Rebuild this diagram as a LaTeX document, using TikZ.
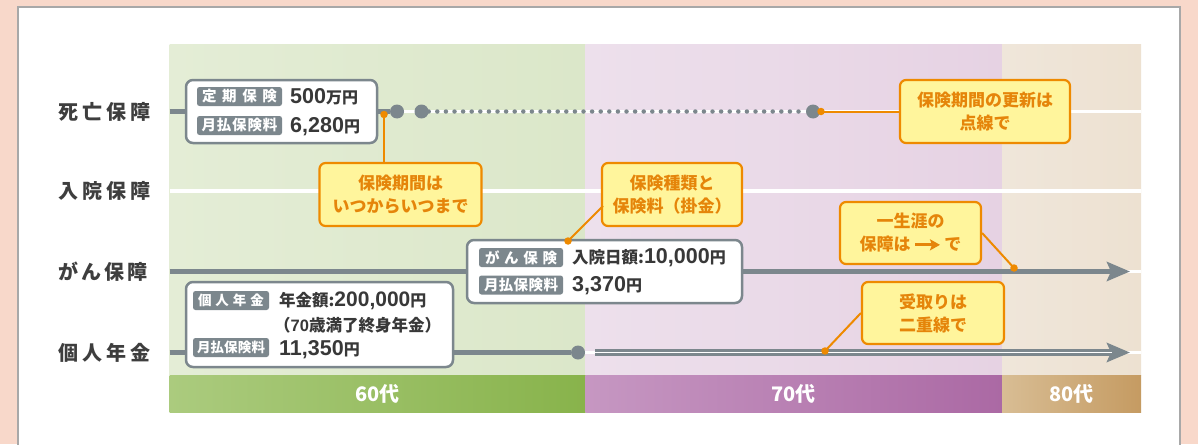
\documentclass[tikz,border=0pt]{standalone}
\usepackage{fontspec}
\setmainfont{Noto Sans CJK JP}
\newfontfamily\dg{Liberation Sans}
\usetikzlibrary{arrows.meta}
\definecolor{bgsalmon}{HTML}{F8D8CA}
\definecolor{panelgray}{HTML}{A8A8A8}
\definecolor{linegray}{HTML}{7C878D}
\definecolor{calloutor}{HTML}{EE8A00}
\definecolor{callouttext}{HTML}{E5850A}
\definecolor{calloutfill}{HTML}{FFF59C}
\definecolor{labeltext}{HTML}{3E3E3E}
\definecolor{valtext}{HTML}{383838}
\definecolor{greenL}{HTML}{E4EDD6}
\definecolor{greenR}{HTML}{DBE7C9}
\definecolor{purpL}{HTML}{EDE0EC}
\definecolor{purpR}{HTML}{E6D2E3}
\definecolor{beigeL}{HTML}{EFE6DA}
\definecolor{beigeR}{HTML}{EDE1D1}
\definecolor{bandgL}{HTML}{ABCB7E}
\definecolor{bandgR}{HTML}{88B34B}
\definecolor{bandpL}{HTML}{C697C2}
\definecolor{bandpR}{HTML}{AB69A4}
\definecolor{bandbL}{HTML}{D8BD94}
\definecolor{bandbR}{HTML}{C59B62}
\newcommand{\fs}[1]{\fontsize{#1}{#1}\selectfont}
\begin{document}
\begin{tikzpicture}[x=1pt,y=-1pt,
  rowlabel/.style={anchor=west, text=labeltext, font=\bfseries\fs{20}, inner sep=0},
  infobox/.style={draw=linegray, line width=2.5pt, rounded corners=7pt, fill=white, inner sep=0},
  tagbox/.style={fill=linegray, rounded corners=2.5pt, text=white, font=\bfseries\fs{14.5}, inner sep=0, minimum height=19pt, minimum width=85pt},
  valtxt/.style={anchor=west, text=valtext, inner sep=0, font=\bfseries},
  callout/.style={draw=calloutor, line width=2.2pt, rounded corners=6pt, fill=calloutfill, text=callouttext, font=\bfseries\fontsize{17}{23}\selectfont, align=center, inner sep=0},
  gline/.style={draw=linegray, line width=5pt},
  wline/.style={draw=white, line width=3.5pt},
  oline/.style={draw=calloutor, line width=2pt},
  dotline/.style={draw=linegray, line width=4.5pt, line cap=round, dash pattern=on 0pt off 8.6pt},
  gdot/.style={circle, fill=linegray, inner sep=0, minimum size=14pt},
  odot/.style={circle, fill=calloutor, inner sep=0, minimum size=7.5pt},
  bandtxt/.style={text=white, font=\bfseries\fs{20}, inner sep=0},
  bigarrow/.style={-{Stealth[length=23pt,width=19pt,inset=4pt]}}
]
\useasboundingbox (0,0) rectangle (1198,444);
\fill[bgsalmon] (0,0) rectangle (1198,444);
\draw[panelgray, line width=2pt, fill=white] (17.5,7.5) rectangle (1180,460);
% age backgrounds
\shade[left color=greenL, right color=greenR] (169.5,45) rectangle (585.5,375);
\shade[left color=purpL, right color=purpR] (585.5,45) rectangle (1002,375);
\shade[left color=beigeL, right color=beigeR] (1002,45) rectangle (1141,375);
% age band
\shade[left color=bandgL, right color=bandgR] (169.5,375) rectangle (585.5,412.5);
\shade[left color=bandpL, right color=bandpR] (585.5,375) rectangle (1002,412.5);
\shade[left color=bandbL, right color=bandbR] (1002,375) rectangle (1141,412.5);
\node[bandtxt] (b60) at (377.5,394) {60代};
\node[bandtxt] (b70) at (793.5,394) {70代};
\node[bandtxt] (b80) at (1071.5,394) {80代};
% white grid lines
\draw[wline] (169.5,111.5) -- (1141,111.5);
\draw[wline] (169.5,191) -- (1141,191);
\draw[wline] (169.5,271.5) -- (1141,271.5);
\draw[wline] (169.5,352.5) -- (1141,352.5);
% row labels
\node[rowlabel] (l1) at (58,111.5) {\makebox[92pt]{死\hfill 亡\hfill 保\hfill 障}};
\node[rowlabel] (l2) at (58,191) {\makebox[92pt]{入\hfill 院\hfill 保\hfill 障}};
\node[rowlabel] (l3) at (58,271.5) {\makebox[89pt]{が\hfill ん\hfill 保\hfill 障}};
\node[rowlabel] (l4) at (58,352.5) {\makebox[92pt]{個\hfill 人\hfill 年\hfill 金}};

% ---- row 1: death
\coordinate (r1s) at (169.5,111.5);
\node[gdot] (g1a) at (397,111.5) {};
\node[gdot] (g1b) at (421.5,111.5) {};
\node[gdot] (g1c) at (813,111.5) {};
\draw[gline] (r1s) -- (g1a.west);
\draw[dotline] (g1b.east) -- (g1c.west);
\node[infobox, minimum width=191pt, minimum height=63pt] (box1) at (281.5,111.5) {};
\node[tagbox] (t1a) at (239.5,96.5) {\makebox[75pt]{定\hfill 期\hfill 保\hfill 険}};
\node[tagbox] (t1b) at (239.5,125.5) {\makebox[76pt]{月\hfill 払\hfill 保\hfill 険\hfill 料}};
\node[valtxt] (v1a) at (290,97) {{\dg\fs{21.5}500}{\fs{16}万円}};
\node[valtxt] (v1b) at (290,126.5) {{\dg\fs{21.5}6,280}{\fs{16}円}};

% ---- row 3: cancer
\coordinate (r3s) at (169.5,271.5);
\coordinate (r3e) at (1130,271.5);
\draw[gline, bigarrow] (r3s) -- (r3e);
\node[infobox, minimum width=275pt, minimum height=63pt] (box3) at (604.5,271.5) {};
\node[tagbox, minimum width=84pt] (t3a) at (521,257.5) {\makebox[72pt]{が\hfill ん\hfill 保\hfill 険}};
\node[tagbox, minimum width=84pt] (t3b) at (521,285) {\makebox[74pt]{月\hfill 払\hfill 保\hfill 険\hfill 料}};
\node[valtxt] (v3a) at (572,258) {{\fs{16.5}入院日額:}{\dg\fs{21.5}10,000}{\fs{16}円}};
\node[valtxt] (v3b) at (572,286) {{\dg\fs{21.5}3,370}{\fs{16}円}};

% ---- row 4: pension
\coordinate (r4s) at (169.5,352.5);
\node[gdot] (g4) at (578,352.5) {};
\draw[gline] (r4s) -- (g4.west);
\coordinate (r4d) at (595,352.5);
\coordinate (r4e) at (1130,352.5);
\coordinate (r4w) at (1112,352.5);
\draw[draw=linegray, line width=7pt, bigarrow] (r4d) -- (r4e);
\draw[white, line width=1.8pt] (r4d) -- (r4w);
\node[infobox, minimum width=267pt, minimum height=85pt] (box4) at (319.5,324.5) {};
\node[tagbox, minimum width=76pt, font=\bfseries\fs{13.5}] (t4a) at (231,300.5) {\makebox[66pt]{個\hfill 人\hfill 年\hfill 金}};
\node[tagbox, minimum width=76pt, font=\bfseries\fs{13.5}] (t4b) at (231,347.5) {\makebox[68pt]{月\hfill 払\hfill 保\hfill 険\hfill 料}};
\node[valtxt] (v4a) at (279,301) {{\fs{16.5}年金額:}{\dg\fs{21}200,000}{\fs{16}円}};
\node[valtxt] (v4b) at (274,325.5) {\fs{16.5}（{\dg 70}歳満了終身年金）};
\node[valtxt] (v4c) at (279,350) {{\dg\fs{21.5}11,350}{\fs{16}円}};

% ---- callouts
\node[callout, minimum width=162pt, minimum height=63pt] (c1) at (400.5,194.5) {保険期間は\\いつからいつまで};
\node[odot] (o1) at (384,114.5) {};
\draw[oline] (o1.center) -- (o1.center |- c1.north);

\node[callout, minimum width=140pt, minimum height=63pt] (c2) at (672,194.5) {保険種類と\\保険料（掛金）};
\node[odot] (o2) at (568,241) {};
\coordinate (c2in) at (603,206);
\draw[oline] (o2.center) -- (c2in);

\node[callout, minimum width=170pt, minimum height=63pt] (c3) at (985,111.5) {保険期間の更新は\\点線で};
\node[odot] (o3) at (821,111.5) {};
\draw[oline] (o3.center) -- (c3.west);

\node[callout, minimum width=141pt, minimum height=62pt] (c4) at (910.5,233) {一生涯の\\保障は\,\tikz[baseline=-0.36em]{\draw[callouttext, line width=3.2pt, -{Stealth[length=10pt,width=11pt,inset=2pt]}] (0pt,0pt) -- (25pt,0pt);}\,で};
\node[odot] (o4) at (1014,268) {};
\draw[oline] (c4.east) -- (o4.center);

\node[callout, minimum width=142pt, minimum height=62pt] (c5) at (933,313) {受取りは\\二重線で};
\node[odot] (o5) at (825,351) {};
\draw[oline] (c5.west) -- (o5.center);
\end{tikzpicture}
\end{document}
